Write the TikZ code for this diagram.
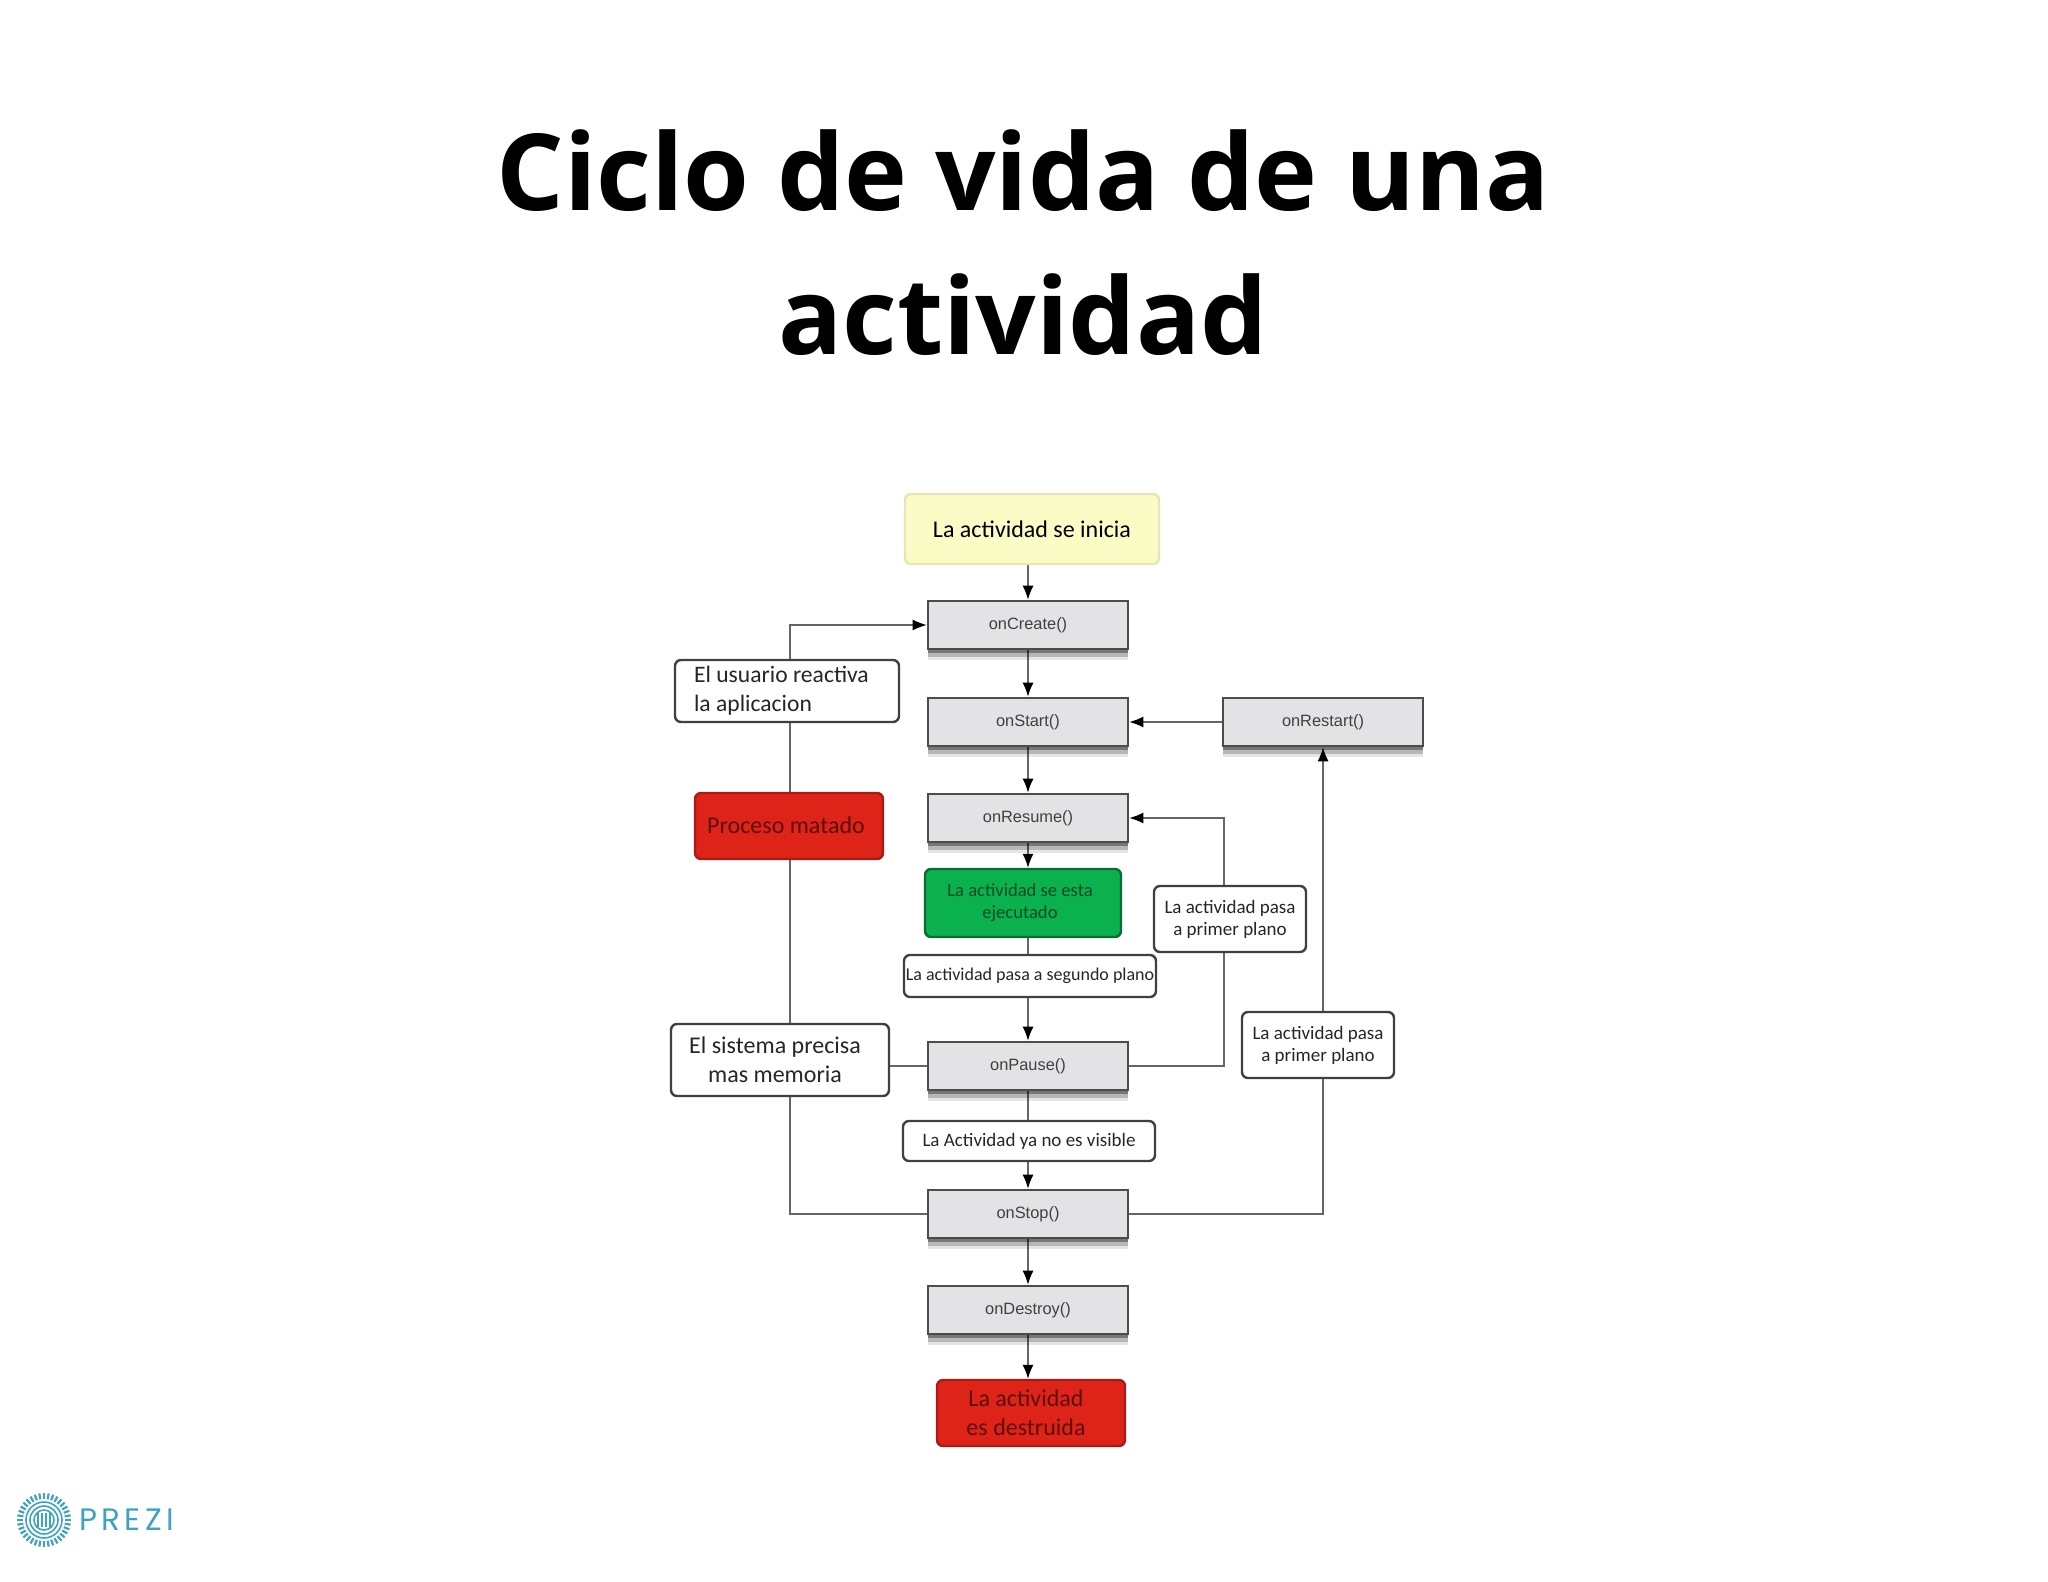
\documentclass[tikz,border=0pt]{standalone}
\usepackage{fontspec}
\setmainfont{Carlito}
\newfontfamily\titlefont{Open Sans}
\newfontfamily\methodfont{Liberation Sans}
\newfontfamily\logofont[LetterSpace=14]{Poppins}
\usetikzlibrary{arrows.meta,backgrounds,shadows}
\definecolor{startfill}{HTML}{FBFBC6}
\definecolor{startline}{HTML}{E6E6B4}
\definecolor{methodfill}{HTML}{E3E3E5}
\definecolor{killfill}{HTML}{DE2419}
\definecolor{killline}{HTML}{A81C16}
\definecolor{killtext}{HTML}{5E0E0A}
\definecolor{runfill}{HTML}{0BB14D}
\definecolor{runline}{HTML}{0B6B36}
\definecolor{runtext}{HTML}{064A24}
\definecolor{flowline}{HTML}{666666}
\definecolor{logoblue}{HTML}{3FA3BE}
\tikzset{
	method/.style={draw=black!70,line width=1.3pt,fill=methodfill,minimum width=100pt,minimum height=24pt,
		inner sep=0pt,font=\methodfont\fontsize{8.2}{10}\selectfont,text=black!75,
		general shadow={shadow yshift=-5.5pt,fill=black,opacity=.1},
		general shadow={shadow yshift=-4pt,fill=black,opacity=.2},
		general shadow={shadow yshift=-2pt,fill=black,opacity=.35}},
	note/.style={draw=black!75,line width=1.2pt,fill=white,rounded corners=3pt,inner sep=0pt,align=center,text=black!85},
	state/.style={rounded corners=3pt,line width=1.2pt,inner sep=0pt,align=center},
	flow/.style={draw=flowline,line width=.7pt},
	flowtip/.style={flow,-{Latex[length=7pt,width=5.5pt,black]}}
}
\begin{document}
\begin{tikzpicture}[x=0.5pt,y=-0.5pt]
	\useasboundingbox (0,0) rectangle (2048,1582);

	\node[font=\titlefont\bfseries\fontsize{53.2}{72}\selectfont,align=center] (title) at (1023,243) {Ciclo de vida de una\\actividad};

	\node[state,draw=startline,fill=startfill,minimum width=127pt,minimum height=35pt,font=\fontsize{12}{14}\selectfont] (start) at (1032,529) {La actividad se inicia};

	\foreach \name/\y/\label in {onCreate/625/onCreate(),onStart/722/onStart(),onResume/818/onResume(),onPause/1066/onPause(),onStop/1214/onStop(),onDestroy/1310/onDestroy()}
		\node[method] (\name) at (1028,\y) {\label};
	\node[method] (onRestart) at (1323,722) {onRestart()};

	\node[note,minimum width=112pt,minimum height=31pt,font=\fontsize{11.8}{14.4}\selectfont,align=left] (userback) at (787,691) {El usuario reactiva\\la aplicacion\hspace*{34pt}};
	\node[state,draw=killline,fill=killfill,text=killtext,minimum width=94pt,minimum height=33pt,font=\fontsize{12}{14}\selectfont] (killed) at (789,826) {\raisebox{1pt}{Proceso matado}\hspace*{3pt}};
	\node[state,draw=runline,fill=runfill,text=runtext,minimum width=98pt,minimum height=34pt,font=\fontsize{9.3}{11}\selectfont] (running) at (1023,903) {La actividad se esta\hspace*{3pt}\\ejecutado\hspace*{3pt}};
	\node[note,minimum width=126pt,minimum height=21pt,font=\fontsize{9}{11}\selectfont] (background) at (1030,976) {\raisebox{1pt}{La actividad pasa a segundo plano}};
	\node[note,minimum width=76pt,minimum height=33pt,font=\fontsize{9.5}{11}\selectfont] (front) at (1230,919) {La actividad pasa\\a primer plano};
	\node[note,minimum width=76pt,minimum height=33pt,font=\fontsize{9.5}{11}\selectfont] (frontstop) at (1318,1045) {La actividad pasa\\a primer plano};
	\node[note,minimum width=109pt,minimum height=36pt,font=\fontsize{12}{14.4}\selectfont] (memory) at (780,1060) {El sistema precisa\hspace*{5pt}\\mas memoria\hspace*{5pt}};
	\node[note,minimum width=126pt,minimum height=20pt,font=\fontsize{9.5}{11}\selectfont] (hidden) at (1029,1141) {La Actividad ya no es visible};
	\node[state,draw=killline,fill=killfill,text=killtext,minimum width=94pt,minimum height=33pt,font=\fontsize{12}{14.4}\selectfont] (destroyed) at (1031,1413) {La actividad\hspace*{5pt}\\es destruida\hspace*{5pt}};

	\coordinate (leftbus) at (790,900);
	\coordinate (rightbus) at (1224,900);

	\begin{scope}[on background layer]
		\draw[flowtip] (start.south -| onCreate.north) -- (onCreate.north);
		\draw[flowtip] (onCreate) -- (onStart);
		\draw[flowtip] (onStart) -- (onResume);
		\draw[flowtip] (onResume) -- (onResume.south |- running.north);
		\draw[flowtip] (running.south -| onPause.north) -- (onPause.north);
		\draw[flowtip] (onPause) -- (onStop);
		\draw[flowtip] (onStop) -- (onDestroy);
		\draw[flowtip] (onDestroy) -- (onDestroy.south |- destroyed.north);
		\draw[flowtip] (onRestart) -- (onStart);
		\draw[flowtip] (onStop.west) -| (leftbus) |- (onCreate.west);
		\draw[flowtip] (onPause.east) -| (rightbus) |- (onResume.east);
		\draw[flowtip] (onStop.east) -| (onRestart.south);
		\draw[flow] (onPause.west) -- (onPause.west -| memory.east);
	\end{scope}

	% logo
	\foreach \a in {0,10,...,350}
		\draw[logoblue,line width=1.1pt] (44,1520) ++(\a:21) -- ++(\a:6);
	\foreach \r in {18,14,10}
		\draw[logoblue,line width=.8pt] (44,1520) circle (\r);
	\foreach \x in {38,42,46,50}
		\draw[logoblue,line width=.6pt] (\x,1513) -- (\x,1527);
	\node[font=\logofont\fontsize{15.5}{18}\selectfont,text=logoblue,anchor=west,inner sep=0pt] (logo) at (79,1520) {PREZI};
\end{tikzpicture}
\end{document}
